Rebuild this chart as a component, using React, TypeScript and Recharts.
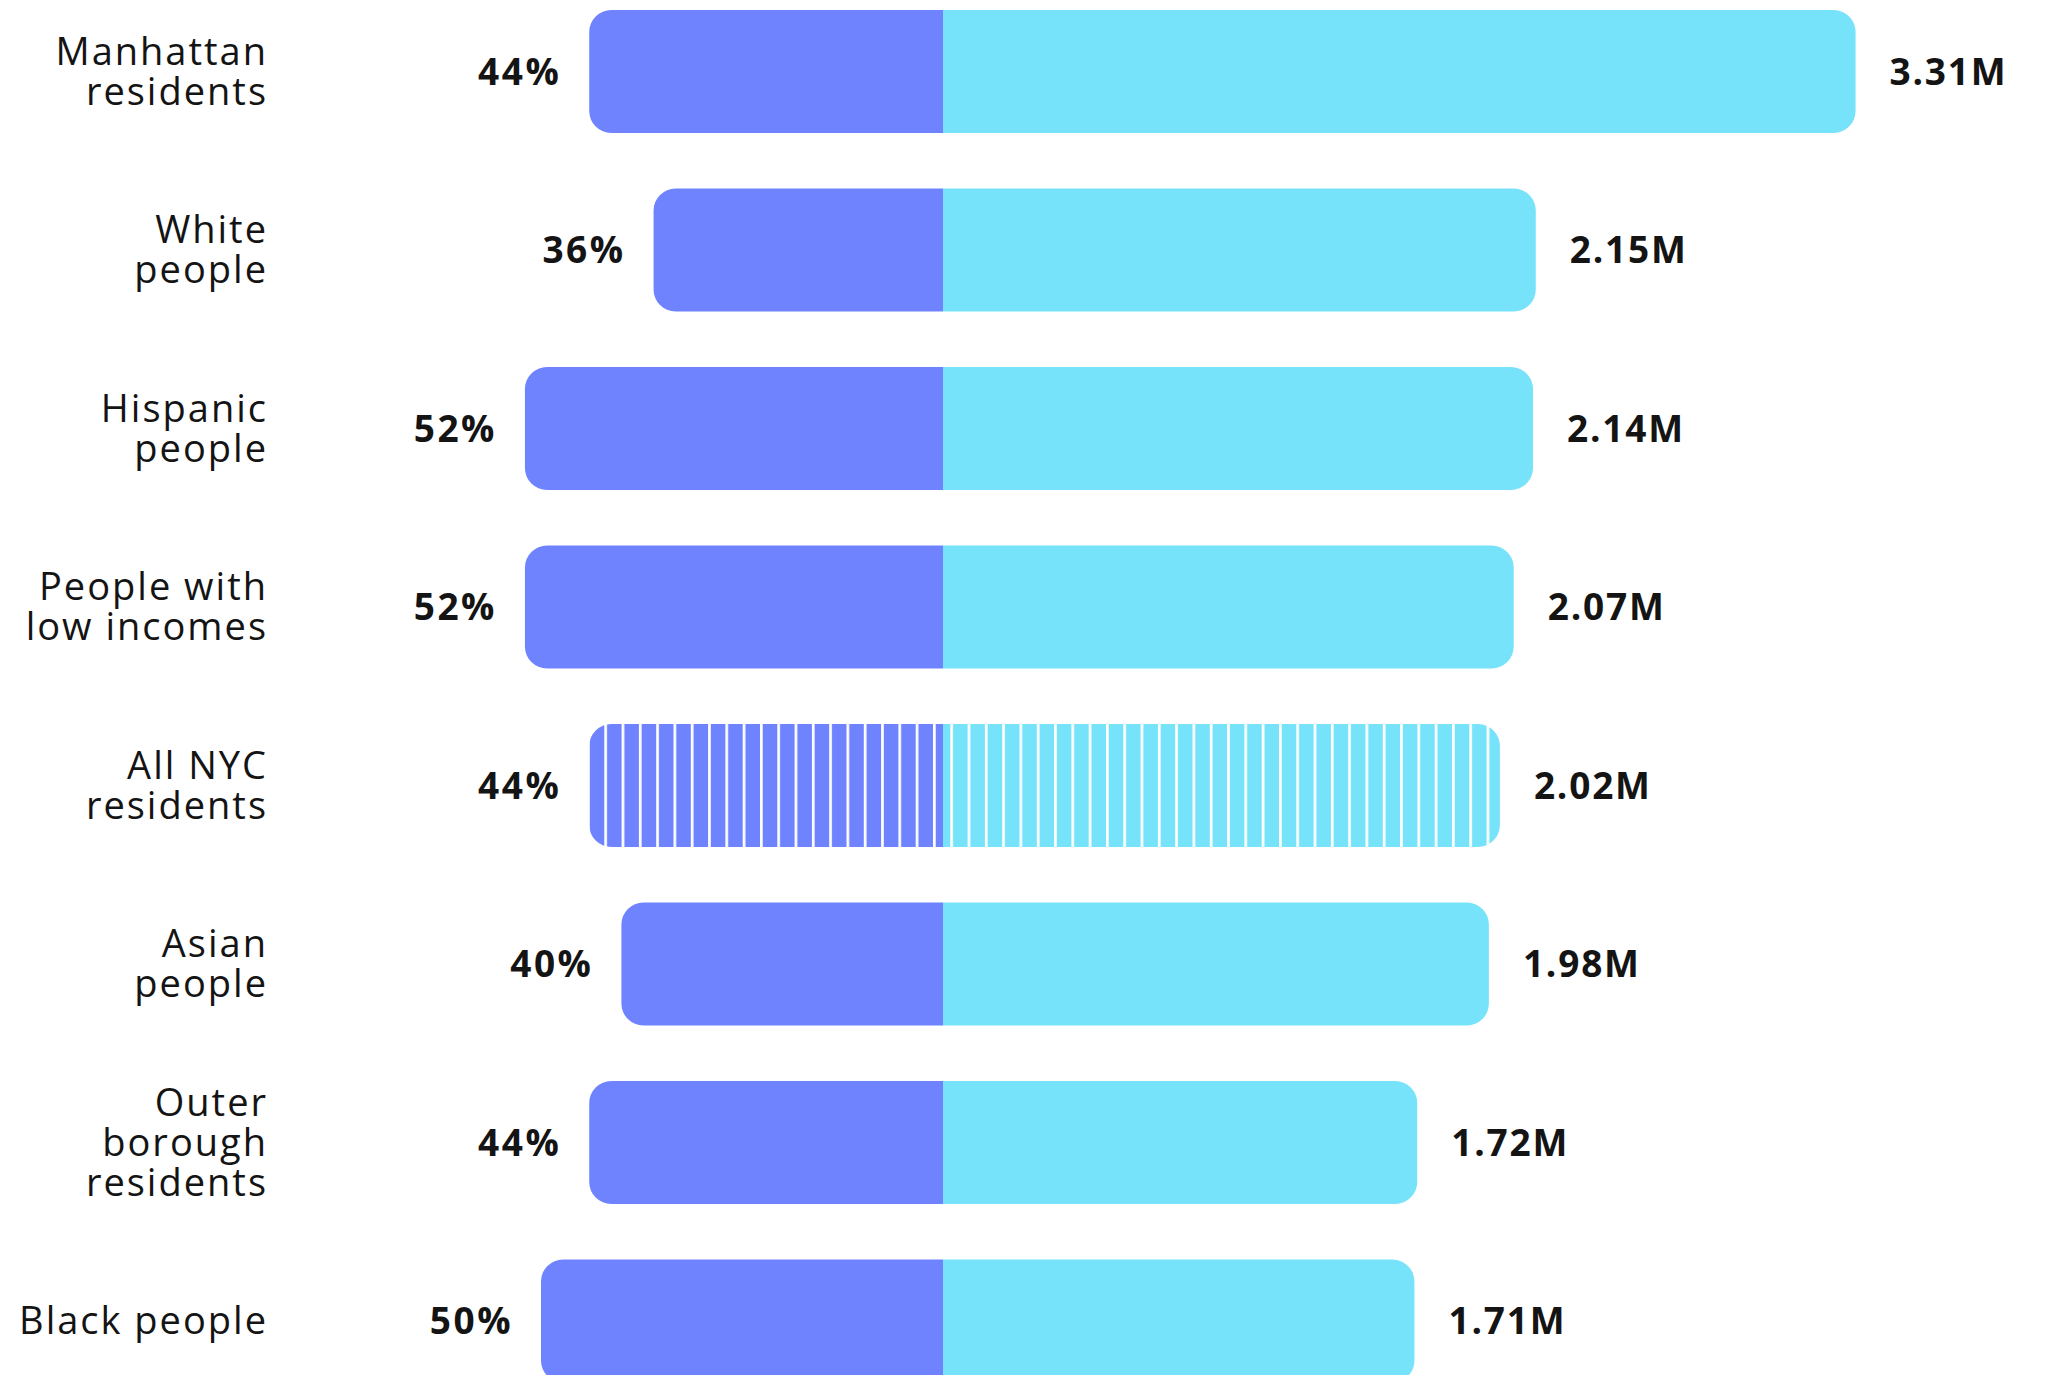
import { Bar, BarChart, LabelList, XAxis, YAxis } from 'recharts';

// rows, top to bottom
const categories = [
  'Manhattan\nresidents',
  'White\npeople',
  'Hispanic\npeople',
  'People with\nlow incomes',
  'All NYC\nresidents',
  'Asian\npeople',
  'Outer\nborough\nresidents',
  'Black people',
];
const sharePct = [44, 36, 52, 52, 44, 40, 44, 50];
const totalMillions = [3.31, 2.15, 2.14, 2.07, 2.02, 1.98, 1.72, 1.71];
const HIGHLIGHT = 'All NYC\nresidents';

const PURPLE = '#6F83FF';
const CYAN = '#77E3FA';
const INK = '#141414';
const FONT = "'Open Sans', sans-serif";

const CHART_W = 2054;
const AXIS_W = 300;
const LABEL_RIGHT = 268;
const DIVIDER_X = 943;
const PX_PER_PCT = 8.04;
const PX_PER_M = 275.7;
const BAND = 178.5;
const RADIUS = 22;

const leftSpan = DIVIDER_X - AXIS_W;
const rightSpan = CHART_W - DIVIDER_X;
const pctDomain: [number, number] = [-rightSpan / PX_PER_PCT, leftSpan / PX_PER_PCT];
const mDomain: [number, number] = [-leftSpan / PX_PER_M, rightSpan / PX_PER_M];

const rows = categories.map((category, i) => ({
  category,
  pct: sharePct[i],
  total: totalMillions[i],
}));

const box = (p: any) => {
  const x0 = Math.min(p.x, p.x + p.width);
  const x1 = Math.max(p.x, p.x + p.width);
  const y0 = Math.min(p.y, p.y + p.height);
  const h = Math.abs(p.height);
  return { x0, x1, y0, h };
};

const Stripes = ({ id, color }: { id: string; color: string }) => (
  <defs>
    <pattern id={id} patternUnits="userSpaceOnUse" x={16.1} y={0} width={17.3} height={20}>
      <rect x={0} y={0} width={17.3} height={20} fill={color} />
      <rect x={0} y={0} width={2.7} height={20} fill="#fff" />
    </pattern>
  </defs>
);

const PctShape = (props: any) => {
  const { x0, x1, y0, h } = box(props);
  const r = Math.min(RADIUS, (x1 - x0) / 2, h / 2);
  const d = `M${x1},${y0} H${x0 + r} A${r},${r} 0 0 0 ${x0},${y0 + r} V${y0 + h - r} A${r},${r} 0 0 0 ${x0 + r},${y0 + h} H${x1} Z`;
  const striped = props.payload?.category === HIGHLIGHT;
  return (
    <g>
      {striped && <Stripes id="stripes-purple" color={PURPLE} />}
      <path d={d} fill={striped ? 'url(#stripes-purple)' : PURPLE} />
    </g>
  );
};

const TotalShape = (props: any) => {
  const { x0, x1, y0, h } = box(props);
  const r = Math.min(RADIUS, (x1 - x0) / 2, h / 2);
  const d = `M${x0},${y0} H${x1 - r} A${r},${r} 0 0 1 ${x1},${y0 + r} V${y0 + h - r} A${r},${r} 0 0 1 ${x1 - r},${y0 + h} H${x0} Z`;
  const striped = props.payload?.category === HIGHLIGHT;
  return (
    <g>
      {striped && <Stripes id="stripes-cyan" color={CYAN} />}
      <path d={d} fill={striped ? 'url(#stripes-cyan)' : CYAN} />
    </g>
  );
};

const PctLabel = (props: any) => {
  const vb = props.viewBox ?? props;
  const { x0, y0, h } = box(vb);
  return (
    <text
      x={x0 - 28}
      y={y0 + h / 2}
      dy="0.36em"
      textAnchor="end"
      fontFamily={FONT}
      fontWeight={700}
      fontSize={37}
      letterSpacing={2.5}
      fill={INK}
    >
      {`${props.value}%`}
    </text>
  );
};

const TotalLabel = (props: any) => {
  const vb = props.viewBox ?? props;
  const { x1, y0, h } = box(vb);
  return (
    <text
      x={x1 + 34}
      y={y0 + h / 2}
      dy="0.36em"
      textAnchor="start"
      fontFamily={FONT}
      fontWeight={700}
      fontSize={37}
      letterSpacing={1.8}
      fill={INK}
    >
      {`${Number(props.value).toFixed(2)}M`}
    </text>
  );
};

const CategoryTick = (props: any) => {
  const lines = String(props.payload?.value ?? '').split('\n');
  const lineH = 40;
  return (
    <text textAnchor="end" fontFamily={FONT} fontSize={38} letterSpacing={2} fill={INK}>
      {lines.map((line, i) => (
        <tspan key={i} x={LABEL_RIGHT} y={props.y + (i - (lines.length - 1) / 2) * lineH} dy="0.36em">
          {line}
        </tspan>
      ))}
    </text>
  );
};

export default function App() {
  return (
    <div style={{ width: CHART_W, height: 1375, overflow: 'hidden', position: 'relative', background: '#fff' }}>
      <style>{'body{margin:0}'}</style>
      <div style={{ position: 'absolute', left: 0, top: 71 - BAND / 2 }}>
        <BarChart
          width={CHART_W}
          height={BAND * categories.length}
          data={rows}
          layout="vertical"
          margin={{ top: 0, right: 0, bottom: 0, left: 0 }}
        >
          <XAxis xAxisId="pct" type="number" domain={pctDomain} allowDataOverflow reversed hide />
          <XAxis xAxisId="m" type="number" domain={mDomain} allowDataOverflow hide />
          <YAxis
            yAxisId="left"
            type="category"
            dataKey="category"
            width={AXIS_W}
            axisLine={false}
            tickLine={false}
            interval={0}
            tick={<CategoryTick />}
          />
          <YAxis yAxisId="right" type="category" dataKey="category" hide />
          <Bar
            dataKey="pct"
            xAxisId="pct"
            yAxisId="left"
            barSize={123}
            fill={PURPLE}
            shape={<PctShape />}
            isAnimationActive={false}
          >
            <LabelList dataKey="pct" content={<PctLabel />} />
          </Bar>
          <Bar
            dataKey="total"
            xAxisId="m"
            yAxisId="right"
            barSize={123}
            fill={CYAN}
            shape={<TotalShape />}
            isAnimationActive={false}
          >
            <LabelList dataKey="total" content={<TotalLabel />} />
          </Bar>
        </BarChart>
      </div>
    </div>
  );
}
